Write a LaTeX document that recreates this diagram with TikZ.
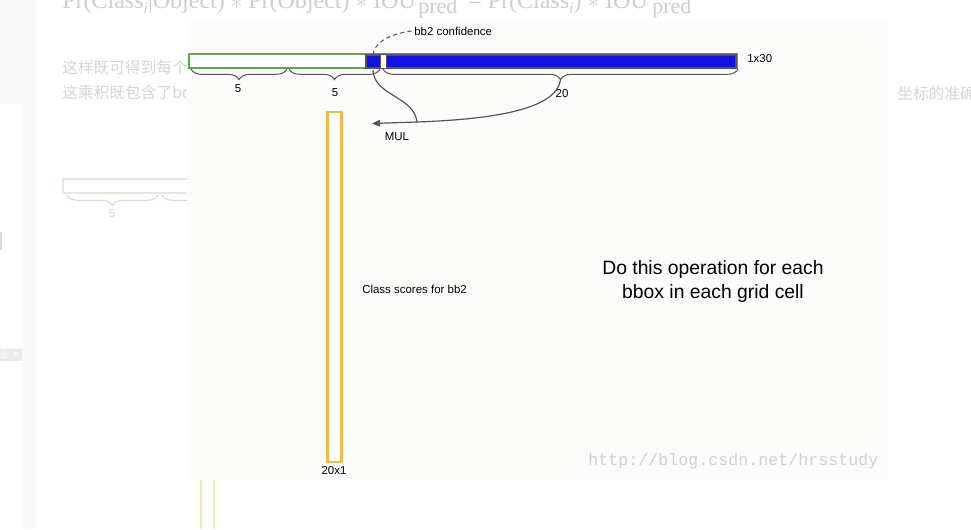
\documentclass[tikz,border=0pt]{standalone}
\usepackage{fontspec}
\setmainfont{Liberation Sans}
\newfontfamily\fmlfont{Liberation Serif}
\newfontfamily\wmfont{Liberation Mono}
\newfontfamily\cjkfont{Noto Sans CJK SC}
\usetikzlibrary{decorations.pathreplacing,arrows.meta}
\definecolor{barGreen}{RGB}{98,164,80}
\definecolor{barBlue}{RGB}{18,18,228}
\definecolor{barOrange}{RGB}{247,186,64}
\definecolor{lineGray}{RGB}{85,85,95}
\definecolor{panelBg}{RGB}{252,253,251}
\definecolor{ghostText}{RGB}{214,214,214}
\definecolor{ghostFml}{RGB}{206,206,206}
\definecolor{ghostGreen}{RGB}{222,236,218}
\definecolor{ghostOrange}{RGB}{252,228,184}
\definecolor{wmGray}{RGB}{208,208,208}
\begin{document}
\begin{tikzpicture}[x=0.75pt,y=-0.75pt,
  lbl/.style={font=\fontsize{8.6}{10}\selectfont, inner sep=0pt, text=black},
  bigtext/.style={font=\fontsize{14.5}{17.3}\selectfont, align=center, inner sep=0pt},
  bracestyle/.style={draw=lineGray, line width=0.75pt, decorate, decoration={brace, amplitude=8pt}},
  ghostbrace/.style={draw=ghostText, line width=0.75pt, decorate, decoration={brace, amplitude=8pt}},
  ghosttext/.style={text=ghostText, inner sep=0pt},
  fmltext/.style={text=ghostFml, inner sep=0pt, anchor=base west},
  conn/.style={draw=lineGray, line width=0.9pt},
  dashline/.style={draw=lineGray, line width=0.8pt, dash pattern=on 3pt off 2.5pt},
  blueseg/.style={draw=lineGray, line width=0.6pt, fill=barBlue, inner sep=0pt},
  vecbox/.style={draw=barOrange, line width=1.6pt, fill=white, inner sep=0pt}
]
\useasboundingbox (0,0) rectangle (971,529);
\clip (0,0) rectangle (971,529);
\fill[white] (0,0) rectangle (971,529);

% ---- faded page background ----
\fill[black!2] (0,0) rectangle (22,104);
\fill[black!2] (22,0) rectangle (36,529);
\fill[black!15] (0,232) rectangle (2,250);
\fill[black!8] (0,349) rectangle (22,361);
\node[text=white, inner sep=0pt, font=\cjkfont\fontsize{7}{7}\selectfont] (gclick) at (4,355) {击};
\node[text=white, inner sep=0pt, font=\fontsize{7}{7}\selectfont] (gclose) at (16,355) {×};

\node[fmltext, font=\fmlfont\fontsize{18}{18}\selectfont] (f1) at (62,8.5)
  {Pr(Class\raisebox{-3.5pt}{\fontsize{12}{12}\selectfont\itshape i}|Object) $*$ Pr(Object) $*$ IOU};
\node[fmltext, font=\fmlfont\fontsize{16.5}{16.5}\selectfont] (f2) at (418,13.5) {pred};
\node[fmltext, font=\fmlfont\fontsize{18}{18}\selectfont] (f3) at (468,8.5)
  {= Pr(Class\raisebox{-3.5pt}{\fontsize{12}{12}\selectfont\itshape i}) $*$ IOU};
\node[fmltext, font=\fmlfont\fontsize{16.5}{16.5}\selectfont] (f4) at (652,13.5) {pred};

\node[ghosttext, anchor=west, font=\cjkfont\fontsize{11.8}{11.8}\selectfont] (c1) at (62,68) {这样既可得到每个};
\node[ghosttext, anchor=west, font=\cjkfont\fontsize{11.8}{11.8}\selectfont] (c2) at (62,93) {这乘积既包含了bo};
\node[ghosttext, anchor=west, font=\cjkfont\fontsize{11.8}{11.8}\selectfont] (c3) at (897,93) {坐标的准确};

\draw[ghostGreen, line width=1.5pt] (63,179) rectangle (300,193);
\draw[ghostbrace] (158,195) -- (67,195);
\draw[ghostbrace] (250,195) -- (162,195);
\node[ghosttext, font=\fontsize{8.6}{10}\selectfont] (g5) at (112,214) {5};

\draw[ghostOrange, line width=1.5pt] (201,470) -- (201,529);
\draw[ghostOrange, line width=1.5pt] (214,470) -- (214,529);

% ---- panel ----
\fill[panelBg] (187,22) rectangle (888,480);

% ---- 1x30 vector ----
\draw[barGreen, line width=1.5pt, fill=white] (189,54) rectangle (737,68);
\draw[lineGray, line width=0.6pt, fill=white] (365,54) rectangle (736,68);
\node[blueseg, minimum width=10.5pt, minimum height=9pt] (sb) at (373,61) {};
\node[blueseg, minimum width=261.5pt, minimum height=9pt] (bb) at (561.2,61) {};
\node[lbl, anchor=west] (dim1) at (747,59) {1x30};

% braces
\draw[bracestyle] (287,69) -- (191,69);
\draw[bracestyle] (380,69) -- (289,69);
\draw[bracestyle] (738,69) -- (383,69);
\node[lbl] (n5a) at (238,89) {5};
\node[lbl] (n5b) at (335,93) {5};
\node[lbl] (n20) at (562,94) {20};
\coordinate (b3tip) at (560.5,80);
\coordinate (sbDown) at (373,70);

% confidence label
\node[lbl, anchor=west] (conf) at (414,31) {bb2 confidence};
\draw[dashline] ([xshift=-2pt]conf.west) .. controls (386,35) and (375,43) .. (sb.north);

% MUL
\coordinate (mul) at (417,122);
\coordinate (arrEnd) at (372,123.5);
\draw[conn] (sbDown) .. controls (374,96) and (414,96) .. (mul);
\draw[conn] (b3tip) .. controls (556,108) and (500,119) .. (mul);
\draw[conn, -{Triangle[length=6pt,width=5pt]}] (mul) -- (arrEnd);
\node[lbl] (mulLbl) at (397,137) {MUL};

% ---- 20x1 class score vector ----
\node[vecbox, minimum width=10.5pt, minimum height=262pt] (vec) at (334.5,287) {};
\node[lbl] (dim2) at (334,471) {20x1};
\node[lbl, anchor=west] (cls) at (362,289) {Class scores for bb2};

\node[bigtext] (note) at (713,281.5) {Do this operation for each\\bbox in each grid cell};

% watermark
\node[anchor=west, inner sep=0pt, text=wmGray, font=\wmfont\fontsize{12.5}{12.5}\selectfont] (wm) at (588,461) {http://blog.csdn.net/hrsstudy};
\end{tikzpicture}
\end{document}
